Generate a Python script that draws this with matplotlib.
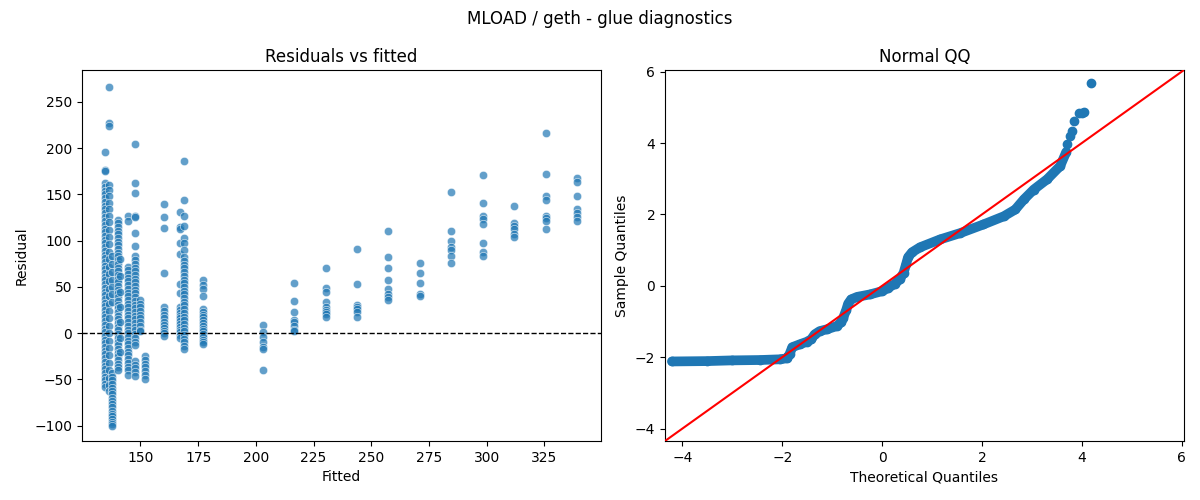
import matplotlib
matplotlib.use("Agg")
import matplotlib.pyplot as plt
import numpy as np

# ---------------- data ----------------
fitted_levels = [134.7, 136.2, 137.6, 140.4, 141.2, 144.7, 147.6, 149.7, 151.8,
                 160.3, 167.1, 169.0, 177.2, 203.2, 216.5, 230.6, 243.9, 257.3,
                 271.1, 284.6, 298.6, 311.9, 325.7, 339.1]

residual_groups = [
    [196, 176, 175, 162, 158, 154, 150, 146, 142, 138, 134, 130, 126, 121, 117, 113,
     109, 105, 101, 97, 93, 89, 85, 81, 77, 73, 69, 65, 61, 57, 53, 49, 45, 41, 37,
     33, 29, 25, 21, 17, 13, 9, 5, 1, -3, -7, -11, -15, -19, -23, -27, -31, -35, -39,
     -43, -47, -51, -55, -58],
    [266, 227, 224, 160, 155, 148, 141, 134, 127, 120, 112, 104, 96, 88, 80, 72, 64,
     56, 48, 40, 32, 24, 16, 8, 0, -8, -16, -24, -32, -40, -48, -56, -62],
    [83, 75, 66, 58, 50, 42, 34, -43, -47, -51, -55, -59, -62, -66, -70, -73, -77,
     -80, -84, -87, -90, -93, -96, -98, -100],
    [122, 119, 115, 111, 107, 103, 99, 95, 91, 87, 83, 79, 75, 71, 67, 63, 59, 55,
     51, 47, 43, 39, 35, 31, 27, 23, 19, 15, 11, 7, 3, -1, -5, -9, -13, -17, -21,
     -25, -29, -33, -36, -40],
    [80, 62, 45, 28, 12, -5, -20],
    [127, 121, 72, 68, 64, 60, 56, 52, 48, 44, 40, 36, 32, 28, 24, 20, 16, 12, 8,
     4, 0, -4, -8, -12, -16, -20, -24, -28, -32, -36, -40, -45],
    [204, 162, 152, 127, 126, 108, 94, 83, 79, 75, 71, 67, 63, 59, 55, 51, 47, 43,
     39, 35, 31, 27, 23, 19, 15, 11, 7, 3, -1, -5, -9, -13, -30, -34, -38, -42, -46],
    [36, 32, 28, 24, 20, 16, 12, 8, 4, 2],
    [-25, -29, -33, -37, -41, -45, -49],
    [139.5, 125.4, 113.9, 64.9, 28.1, 24.5, 19.8, 16.2, 12.6, 9.0, 5.4, 2, 0, -2.5],
    [130.8, 115.3, 112.4, 97.3, 85.8, 53.3, 43.2, 28, 25, 22, 19, 16, 13, 10, 7, 4,
     1, -2, -5],
    [186, 144, 126.8, 116, 103.4, 97.3, 90.1, 82.9, 78, 74, 70, 66, 62, 58, 54, 50,
     46, 42, 38, 34, 30, 26, 22, 18, 14, 10, 6, 2, -2, -6, -10, -14, -17],
    [57.7, 52.3, 47.6, 40.7, 26.3, 23.4, 20, 17, 14, 11, 8, 5, 2, -1, -4, -7, -9,
     -11.5],
    [9.0, 1.8, -3.6, -9.0, -14.4, -17.3, -39.6],
    [54.1, 35.0, 22.7, 14.4, 11.9, 8.3, 3.6, 2.5],
    [70.3, 48.6, 44.3, 33.5, 28.1, 25.2, 22.7, 20.5, 17.3],
    [90.8, 53.0, 30.6, 28.1, 26.3, 22.7, 18.0],
    [110.3, 82.2, 70.3, 57.7, 47.6, 42.2, 39.6, 36.0],
    [76.4, 65.2, 54.1, 42.9, 40.7],
    [152.4, 110.3, 100.2, 93.0, 90.1, 83.6, 75.7],
    [170.8, 140.5, 127.2, 123.2, 117.8, 97.3, 88.3, 83.6],
    [137.7, 118.9, 116.0, 112.8, 107.4, 104.5],
    [216.2, 171.9, 148.8, 144.1, 127.2, 124.3, 121.4, 112.4],
    [167.6, 163.2, 148.5, 134.4, 129.7, 126.1, 121.8],
]

# QQ body (theoretical, sample) read along the band of points
qq_theoretical = [-4.21, -3.5, -3.0, -2.45, -2.05, -1.90, -1.85, -1.80, -1.65, -1.51,
                  -1.42, -1.35, -1.25, -1.11, -0.91, -0.82, -0.78, -0.72, -0.68, -0.62,
                  -0.50, -0.24, 0.0, 0.12, 0.25, 0.35, 0.43, 0.48, 0.52, 0.60, 0.76,
                  1.16, 1.57, 2.03, 2.44, 2.67, 2.84, 3.04, 3.31, 3.57, 3.69]
qq_sample = [-2.12, -2.11, -2.09, -2.08, -2.06, -2.03, -1.90, -1.72, -1.64, -1.57,
             -1.50, -1.36, -1.27, -1.22, -1.13, -1.02, -0.90, -0.68, -0.50, -0.38,
             -0.31, -0.24, -0.15, -0.06, 0.05, 0.18, 0.36, 0.60, 0.80, 0.94, 1.08,
             1.30, 1.48, 1.72, 1.95, 2.14, 2.42, 2.70, 2.99, 3.36, 3.75]
# QQ upper tail, separate points
qq_tail_theoretical = [3.71, 3.76, 3.81, 3.84, 3.94, 4.01, 4.05, 4.18]
qq_tail_sample = [3.97, 4.19, 4.35, 4.61, 4.85, 4.85, 4.86, 5.68]

# ---------------- figure ----------------
fitted = np.concatenate([[f] * len(r) for f, r in zip(fitted_levels, residual_groups)])
resid = np.concatenate([np.asarray(r, float) for r in residual_groups])

fig = plt.figure(figsize=(12, 5), dpi=100)
ax1 = fig.add_axes([82 / 1200, 1 - 441 / 500, (601 - 82) / 1200, (441 - 70) / 500])
ax2 = fig.add_axes([665 / 1200, 1 - 441 / 500, (1184 - 665) / 1200, (441 - 70) / 500])

blue = "#1f77b4"
ax1.scatter(fitted, resid, s=36, color=blue, alpha=0.7, edgecolors="white",
            linewidths=0.48, zorder=2)
ax1.axhline(0, color="black", linestyle="--", linewidth=1, zorder=3)
ax1.set_xlim(124.7, 349.5)
ax1.set_ylim(-116.5, 284.5)
ax1.set_xticks([150, 175, 200, 225, 250, 275, 300, 325])
ax1.set_yticks([-100, -50, 0, 50, 100, 150, 200, 250])
ax1.set_xlabel("Fitted")
ax1.set_ylabel("Residual")
ax1.set_title("Residuals vs fitted")

ax2.plot(qq_theoretical, qq_sample, color=blue, linewidth=7, solid_capstyle="round",
         solid_joinstyle="round", marker="o", markersize=6, markeredgewidth=1, zorder=2)
ax2.plot(qq_tail_theoretical, qq_tail_sample, linestyle="none", marker="o",
         markersize=6, markeredgewidth=1, color=blue, zorder=2)
lims = [-4.35, 6.05]
ax2.plot(lims, lims, color="red", linewidth=1.5, zorder=3)
ax2.set_xlim(lims)
ax2.set_ylim(lims)
ax2.set_xticks([-4, -2, 0, 2, 4, 6])
ax2.set_yticks([-4, -2, 0, 2, 4, 6])
ax2.set_xlabel("Theoretical Quantiles")
ax2.set_ylabel("Sample Quantiles")
ax2.set_title("Normal QQ")

fig.suptitle("MLOAD / geth - glue diagnostics", y=0.98)
fig.savefig("out.png", dpi=100)
